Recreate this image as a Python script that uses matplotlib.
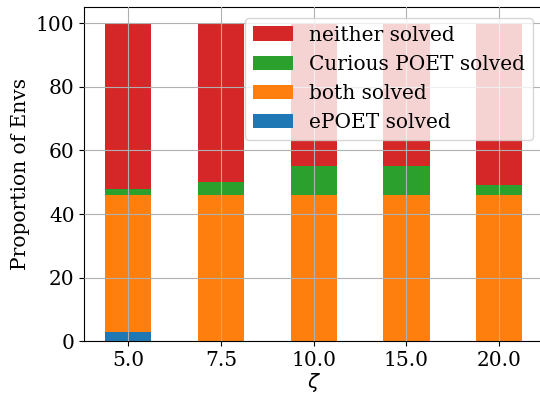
import numpy as np
import matplotlib
matplotlib.use('Agg')
from matplotlib import pyplot as plt

plt.rcParams['font.family'] = ['DejaVu Serif']
plt.rcParams['font.size'] = 14.5

zetas = ['5.0', '7.5', '10.0', '15.0', '20.0']
epoet_solved = np.array([3, 0, 0, 0, 0])
both_solved = np.array([43, 46, 46, 46, 46])
curious_solved = np.array([2, 4, 9, 9, 3])
neither_solved = np.array([52, 50, 45, 45, 51])

fig = plt.figure(figsize=(5.4, 3.93), dpi=100)
ax = fig.add_axes([0.156, 0.132, 0.85, 0.849])

x = np.arange(len(zetas))
w = 0.5
b1 = ax.bar(x, epoet_solved, w, color='tab:blue', label='ePOET solved')
b2 = ax.bar(x, both_solved, w, bottom=epoet_solved, color='tab:orange', label='both solved')
bot = epoet_solved + both_solved
b3 = ax.bar(x, curious_solved, w, bottom=bot, color='tab:green', label='Curious POET solved')
bot = bot + curious_solved
b4 = ax.bar(x, neither_solved, w, bottom=bot, color='tab:red', label='neither solved')

ax.set_xticks(x)
ax.set_xticklabels(zetas)
ax.set_xlabel(r'$\zeta$', labelpad=1)
ax.set_ylabel('Proportion of Envs')
ax.grid(True)
ax.set_axisbelow(False)
ax.legend(handles=[b4, b3, b2, b1], loc='upper right')

fig.savefig('out.png', dpi=100)
